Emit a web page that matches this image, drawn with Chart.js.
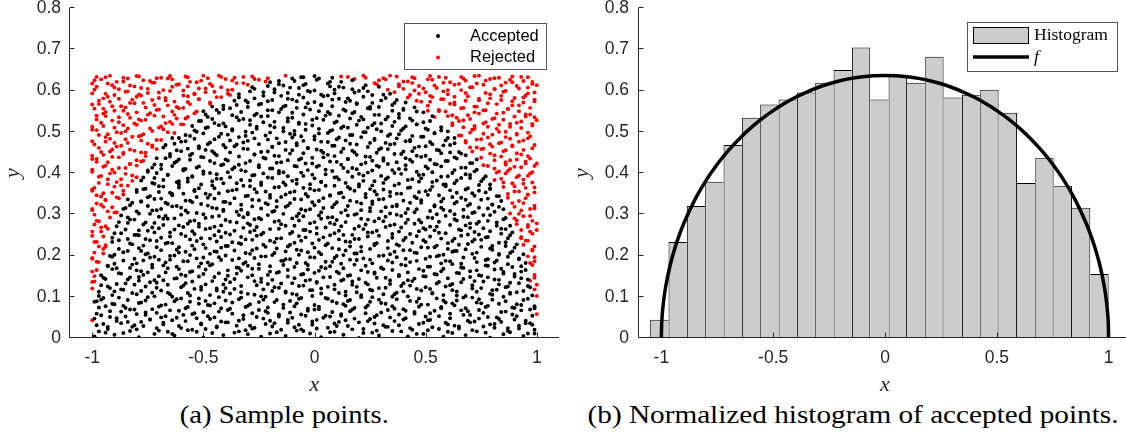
<!DOCTYPE html>
<html>
<head>
<meta charset="utf-8">
<script src="https://cdn.jsdelivr.net/npm/chart.js"></script>
<style>
  html, body { margin: 0; padding: 0; background: #fff; }
  body { width: 1126px; height: 444px; overflow: hidden; position: relative; }
  canvas { position: absolute; top: 0; }
  .caption {
    position: absolute; top: 402px; white-space: nowrap;
    font-family: "Liberation Serif", "Times New Roman", serif;
    font-size: 25px; line-height: 25px; color: #000;
    transform-origin: center center;
  }
</style>
</head>
<body>
<canvas id="samples" width="563" height="400" style="left:0"></canvas>
<canvas id="hist" width="568" height="400" style="left:563px"></canvas>
<div class="caption" data-center="284.5" data-width="209">(a) Sample points.</div>
<div class="caption" data-center="853" data-width="531">(b) Normalized histogram of accepted points.</div>
<script>
// Rejection-sampling points, stored as flat [x, y, x, y, ...] pairs:
// x in hundredths, y in thousandths.
const acceptedXY = [
  -99,4,-94,13,-90,8,-83,17,-79,2,-72,10,-66,15,-63,6,-57,19,-50,1,-46,12,-41,7,-34,16,-30,9,-24,3,-17,14,-13,5,-8,18,-2,11,3,2,9,15,13,8,20,0,26,13,29,6,35,17,42,4,46,10,51,19,58,3,62,12,68,7,73,16,79,1,85,9,88,14,94,5,99,11,
  -98,31,-93,22,-87,36,-82,27,-78,39,-71,24,-68,33,-61,29,-55,20,-51,35,-44,26,-39,38,-35,30,-28,23,-22,34,-19,28,-12,37,-6,21,-1,32,6,25,11,39,15,29,22,22,27,35,33,27,38,31,44,20,49,37,53,26,60,33,65,23,70,38,76,28,81,34,87,24,92,30,97,36,
  -99,47,-96,55,-89,41,-85,52,-80,58,-74,45,-69,50,-64,43,-59,56,-53,48,-48,53,-42,40,-37,59,-32,46,-26,51,-20,42,-16,57,-10,49,-4,54,1,44,7,52,12,58,18,47,24,41,28,55,34,50,40,45,45,59,51,43,56,53,61,48,67,56,72,40,78,51,83,46,89,57,95,42,98,54,
  -97,74,-92,65,-86,78,-81,69,-76,62,-70,76,-65,67,-58,72,-54,60,-47,79,-43,64,-38,71,-31,75,-25,68,-21,61,-14,73,-9,77,-3,66,2,70,8,63,14,78,17,69,23,74,30,62,36,71,41,66,47,76,52,60,57,72,63,79,69,65,74,68,77,75,84,63,90,73,93,67,99,77,
  -98,89,-95,97,-91,83,-84,92,-78,86,-75,99,-67,81,-62,94,-56,88,-52,96,-45,84,-40,91,-33,98,-29,82,-23,93,-18,87,-11,90,-7,95,0,80,5,97,10,85,16,92,21,99,25,88,32,83,37,94,43,90,48,81,55,96,59,86,64,91,71,98,75,84,80,93,86,89,91,82,96,95,
  -97,102,-90,113,-87,118,-80,106,-73,110,-69,115,-64,100,-57,109,-51,117,-47,104,-41,112,-36,119,-30,107,-24,101,-19,114,-13,110,-8,105,-1,116,3,108,9,118,14,103,19,111,26,115,31,106,35,100,40,113,46,119,53,109,58,104,62,116,68,102,73,112,79,107,82,117,88,110,94,114,98,103,
  -96,128,-92,121,-85,132,-79,139,-76,125,-71,134,-66,129,-60,123,-55,137,-49,130,-44,120,-38,135,-33,126,-27,138,-21,131,-16,122,-10,133,-5,127,1,136,6,124,12,139,17,129,23,134,29,121,34,131,39,126,44,138,50,123,55,132,61,128,66,135,71,120,76,137,83,130,87,125,92,133,97,123,
  -94,143,-88,157,-83,147,-77,153,-72,140,-67,159,-62,145,-58,151,-50,155,-45,148,-40,142,-35,156,-28,152,-24,144,-17,158,-12,149,-6,154,-2,141,4,147,11,157,15,151,20,143,27,159,32,146,38,153,42,140,49,150,54,155,60,145,64,158,70,148,74,152,81,142,85,156,90,149,96,142,
  -93,174,-89,169,-82,178,-78,162,-73,171,-68,176,-61,167,-56,160,-52,173,-46,179,-39,164,-34,170,-30,175,-25,168,-20,161,-14,177,-9,172,-3,166,2,163,7,174,13,169,18,178,24,160,30,171,35,165,41,176,47,167,52,173,57,162,62,179,67,170,73,164,78,175,84,168,89,172,93,161,
  -91,197,-86,188,-80,181,-74,195,-70,190,-65,199,-59,186,-53,193,-48,183,-43,196,-37,189,-32,180,-27,194,-22,198,-15,187,-11,191,-4,182,0,195,5,185,10,199,16,190,22,193,26,181,33,188,37,196,43,184,50,192,55,198,59,187,66,180,72,194,77,189,81,183,87,197,92,191,95,182,
  -90,202,-84,211,-79,218,-75,205,-69,213,-63,200,-58,209,-54,215,-47,204,-42,219,-36,212,-31,206,-26,217,-19,201,-13,210,-8,214,-3,208,3,203,8,218,14,212,19,205,25,216,31,200,36,209,40,213,46,206,51,219,58,202,63,211,68,215,73,207,79,217,83,204,89,210,94,203,
  -88,237,-83,229,-77,224,-71,235,-66,231,-61,220,-56,239,-50,227,-44,234,-39,223,-34,230,-28,238,-23,226,-18,232,-12,222,-6,236,-1,229,5,225,11,239,16,233,21,221,27,228,33,235,38,224,44,231,49,237,54,220,60,230,65,226,71,234,75,238,80,223,86,232,91,227,
  -91,243,-87,254,-81,250,-76,240,-72,256,-65,246,-60,252,-55,259,-51,242,-45,249,-40,255,-33,245,-29,257,-24,251,-17,241,-11,253,-7,247,-2,258,4,244,9,254,13,250,20,240,24,256,29,248,35,252,41,243,47,259,52,246,56,255,63,241,69,251,72,257,78,245,84,253,88,249,
  -89,271,-84,279,-79,261,-73,268,-68,274,-63,263,-57,277,-52,270,-47,266,-42,273,-36,260,-30,278,-26,269,-20,264,-15,276,-9,272,-4,262,1,267,7,279,12,271,18,265,23,275,28,260,34,273,39,268,45,277,50,263,55,270,61,274,66,261,70,278,76,266,82,272,86,264,
  -87,297,-81,287,-76,280,-70,294,-66,289,-60,299,-54,285,-49,291,-43,296,-38,282,-32,293,-27,288,-21,298,-16,284,-10,290,-5,295,0,281,6,292,10,286,15,297,21,289,27,283,32,294,37,299,42,287,48,280,53,291,59,296,64,285,69,293,74,282,79,298,85,288,
  -85,315,-80,307,-74,301,-69,313,-64,319,-58,309,-53,303,-46,316,-41,311,-35,306,-30,300,-24,314,-18,308,-13,318,-7,302,-2,312,3,305,8,317,14,310,19,301,25,315,30,307,35,319,41,303,46,312,52,308,57,316,63,300,67,311,72,305,78,314,83,318,
  -83,322,-78,331,-72,337,-67,328,-62,320,-56,333,-51,325,-45,338,-40,330,-33,323,-28,335,-22,327,-17,332,-12,321,-6,336,-1,329,4,339,9,324,16,333,21,326,26,331,31,337,37,320,43,328,48,334,54,322,58,338,64,330,70,325,75,335,80,323,84,332,
  -80,359,-75,341,-70,354,-64,346,-59,350,-54,356,-48,340,-43,351,-37,358,-31,344,-26,353,-20,347,-15,342,-9,355,-4,349,2,359,7,345,12,352,18,357,23,341,28,348,34,354,39,350,45,343,50,356,56,346,61,358,66,340,71,351,77,353,82,344,
  -77,361,-73,376,-68,367,-61,372,-57,379,-52,363,-46,370,-41,375,-35,360,-29,368,-24,377,-18,365,-13,371,-8,374,-2,362,3,378,9,369,15,366,20,373,25,361,31,376,36,370,42,364,47,379,53,367,59,372,63,375,68,360,74,371,79,363,
  -78,382,-72,388,-66,396,-61,380,-55,392,-50,398,-44,386,-38,390,-33,383,-27,395,-21,389,-16,399,-10,381,-5,393,0,387,5,397,11,384,17,391,22,394,27,380,33,389,39,398,44,385,49,396,55,382,60,392,66,388,70,395,76,386,
  -75,403,-69,410,-64,417,-59,406,-53,413,-47,400,-42,419,-37,409,-31,404,-25,414,-19,411,-14,402,-8,416,-3,407,2,418,8,405,13,412,19,409,24,401,29,415,35,407,41,419,46,403,51,411,57,416,62,400,68,413,73,408,
  -72,421,-67,436,-62,428,-56,432,-51,439,-45,424,-40,433,-34,420,-29,429,-23,437,-17,425,-12,431,-6,435,-1,423,4,438,10,427,15,434,21,421,26,430,31,436,37,426,43,432,48,439,54,422,59,429,64,435,70,424,
  -65,440,-60,453,-55,447,-49,456,-44,443,-38,450,-32,459,-27,445,-21,452,-16,441,-10,455,-5,448,1,457,6,444,12,451,17,454,23,440,28,449,33,458,39,446,44,453,50,442,55,456,61,450,66,447,
  -68,462,-63,471,-58,477,-52,460,-47,474,-41,468,-36,465,-30,478,-25,470,-19,463,-13,475,-8,472,-3,461,3,476,9,466,14,479,19,469,25,473,30,460,36,471,41,477,47,464,52,475,58,467,63,472,
  -61,485,-56,490,-50,496,-45,482,-39,493,-34,487,-28,498,-22,491,-17,484,-11,495,-6,489,0,481,6,497,11,486,16,492,22,499,27,483,33,490,38,494,43,480,49,488,54,496,60,485,
  -54,503,-48,511,-43,516,-37,506,-31,500,-26,512,-20,515,-14,509,-9,502,-4,519,2,507,8,504,13,513,19,517,24,510,30,501,35,514,40,508,46,518,51,505,57,503,
  -52,526,-46,531,-41,520,-35,535,-29,528,-24,537,-18,524,-12,533,-7,522,-1,529,5,539,10,525,16,532,21,536,27,521,32,530,38,534,44,527,49,523,
  -49,542,-44,553,-38,557,-33,548,-27,540,-21,552,-15,555,-10,546,-4,559,2,550,7,543,13,554,18,548,24,557,29,541,35,551,40,556,46,549,
  -41,563,-36,575,-30,571,-25,566,-19,577,-14,561,-8,574,-3,569,3,564,8,578,14,572,19,567,25,560,30,576,36,570,41,571,
  -34,583,-29,598,-23,587,-18,595,-12,580,-7,590,-2,597,4,586,9,593,15,581,20,599,26,589,31,590,
  -27,604,-21,611,-16,615,-11,607,-5,613,0,600,6,617,11,609,17,603,22,606,
  -16,623,-10,629,-5,632,1,626,7,621,
  -97,16,-93,27,-86,12,-80,21,-77,29,-70,18,-64,10,-60,24,-53,15,-49,22,-44,28,-36,13,-31,19,-27,25,-20,11,-15,20,-9,26,-5,17,1,23,7,14,10,29,17,21,22,12,28,18,32,27,39,16,43,24,49,10,56,22,60,15,65,28,71,19,77,13,81,25,87,17,92,23,96,11,99,20,
  -95,34,-89,48,-84,39,-81,31,-74,45,-68,37,-62,49,-58,41,-51,33,-47,46,-40,38,-34,42,-29,30,-23,47,-18,36,-12,44,-7,32,-1,40,4,49,9,35,14,43,20,38,25,46,31,31,36,41,41,48,47,34,52,44,59,37,63,30,69,42,74,47,79,33,84,39,90,45,95,36,98,32,
  -98,59,-92,51,-87,64,-83,69,-76,56,-71,61,-67,53,-61,66,-55,58,-50,63,-45,50,-39,68,-32,55,-28,60,-22,65,-16,52,-11,62,-6,57,0,69,5,54,12,54,16,65,23,60,27,51,33,68,38,57,45,63,50,52,54,66,61,59,66,67,70,56,76,61,82,50,86,64,91,53,97,69,
  -99,88,-94,77,-90,82,-85,73,-79,85,-73,70,-69,79,-63,89,-57,75,-52,83,-48,80,-42,72,-37,86,-30,78,-25,87,-21,74,-14,81,-8,84,-3,71,2,76,8,89,13,82,18,73,24,79,30,85,35,77,40,70,46,88,51,81,57,75,62,84,68,72,73,86,78,78,83,83,89,74,93,80,99,72,
  -96,93,-91,104,-88,98,-82,109,-76,91,-72,101,-65,106,-60,96,-56,103,-49,90,-43,99,-38,108,-34,94,-27,105,-22,100,-17,92,-10,107,-6,97,-1,102,6,95,11,109,15,90,21,104,26,99,29,93,36,106,42,101,47,96,53,108,58,91,64,103,67,98,74,94,80,105,85,100,88,107,94,92,
  -97,112,-93,125,-86,117,-81,129,-78,114,-71,122,-66,110,-59,127,-54,119,-51,124,-44,115,-40,121,-33,111,-26,128,-23,118,-18,123,-13,113,-7,126,-2,116,3,120,9,129,14,112,19,124,25,117,32,122,37,110,43,127,48,115,52,119,59,125,64,113,71,128,75,121,80,116,86,123,91,111,96,126,
  -95,146,-89,131,-84,142,-79,148,-74,135,-68,140,-63,144,-58,133,-52,149,-46,138,-41,130,-36,143,-30,147,-24,136,-19,141,-15,132,-9,145,-4,139,1,134,7,148,13,142,17,137,24,130,28,146,34,140,40,133,45,144,50,149,56,136,62,131,67,143,72,138,78,147,83,141,88,134,93,145,
  -96,152,-91,167,-87,156,-80,164,-75,159,-70,150,-66,169,-60,154,-55,162,-49,166,-43,157,-39,151,-33,163,-28,168,-21,153,-16,160,-12,165,-5,155,0,158,5,169,10,161,16,152,21,164,27,156,31,167,38,150,42,159,49,163,55,154,58,168,65,157,70,162,75,151,81,166,85,160,90,155,95,165,
  -93,175,-90,180,-83,170,-77,188,-73,178,-67,183,-62,173,-57,186,-51,181,-47,176,-42,189,-35,171,-31,184,-25,179,-20,174,-14,187,-8,182,-3,177,3,172,8,185,12,180,19,189,23,175,30,170,35,183,39,178,46,187,51,173,57,181,61,186,66,171,73,184,77,176,82,188,87,179,93,174,
  -92,199,-86,208,-81,192,-76,203,-72,197,-65,190,-61,207,-56,201,-50,195,-44,209,-40,200,-34,193,-29,204,-24,198,-18,206,-13,191,-7,202,-2,196,2,208,9,194,13,201,18,205,25,190,29,199,34,203,41,192,45,207,52,197,56,200,62,209,67,195,71,204,78,191,83,202,88,206,92,193,
  -88,216,-82,227,-78,211,-71,220,-67,229,-62,214,-55,224,-49,218,-45,210,-40,223,-33,228,-28,213,-22,221,-17,217,-11,226,-6,212,0,219,6,229,11,215,16,222,21,210,27,225,33,218,37,227,43,213,48,220,55,224,60,216,64,211,69,228,75,221,80,214,86,223,90,219,
  -91,233,-84,240,-79,249,-74,237,-69,243,-64,230,-58,247,-53,235,-47,241,-42,245,-37,232,-31,239,-26,248,-20,236,-15,242,-9,231,-4,244,2,238,7,249,14,234,18,240,24,246,28,230,35,243,40,237,46,247,50,233,57,241,62,235,66,248,72,239,77,244,83,231,87,242,
  -90,254,-85,263,-80,250,-75,260,-70,266,-65,256,-59,269,-54,252,-49,264,-43,259,-38,251,-32,267,-27,261,-23,255,-16,265,-10,257,-5,262,1,253,5,268,11,260,17,250,22,264,26,256,32,269,38,258,43,252,49,266,54,261,59,254,65,263,70,267,74,251,79,259,84,265,89,256,
  -88,281,-83,287,-77,275,-72,279,-68,289,-61,273,-56,283,-52,277,-45,270,-40,286,-35,280,-29,274,-24,288,-18,282,-13,272,-7,285,-2,278,3,289,9,276,14,281,20,271,24,287,31,283,36,275,41,279,47,286,52,270,56,282,63,288,68,273,73,277,78,284,82,280,88,272,
  -84,292,-79,302,-73,309,-67,296,-63,290,-57,304,-50,300,-46,294,-41,308,-34,298,-30,303,-25,291,-19,306,-14,301,-8,295,-4,309,2,297,8,293,12,304,18,299,25,307,29,290,34,302,39,296,45,305,51,292,55,300,61,308,67,294,71,303,76,298,81,306,86,291,
  -86,313,-82,328,-75,320,-71,310,-66,325,-60,316,-55,329,-48,321,-44,314,-38,326,-33,311,-28,319,-21,324,-17,318,-11,327,-6,312,0,322,4,315,10,329,15,320,21,310,26,325,32,317,37,323,42,313,48,328,54,319,58,311,63,326,69,321,74,316,80,324,85,312,
  -84,336,-78,331,-74,344,-69,338,-64,349,-58,333,-53,342,-47,347,-41,330,-36,339,-30,345,-25,334,-20,340,-13,348,-9,337,-3,343,2,332,7,346,13,341,19,330,23,349,29,336,34,344,40,333,46,339,51,347,57,331,62,342,68,335,72,345,78,338,83,344,
  -80,354,-76,362,-70,368,-65,352,-61,365,-54,359,-49,350,-45,363,-39,356,-32,369,-27,361,-22,355,-16,366,-11,353,-5,364,0,358,5,369,11,351,16,362,20,367,27,356,31,360,37,350,43,365,47,354,52,359,59,368,64,352,69,363,74,357,79,361,
  -77,389,-72,374,-68,383,-62,378,-57,387,-51,372,-46,380,-42,386,-35,375,-29,382,-24,371,-19,388,-14,377,-8,384,-2,373,3,379,9,389,14,376,22,381,26,370,32,385,38,374,42,383,48,387,53,378,58,372,64,382,70,388,75,380,79,372,
  -75,406,-71,400,-66,395,-59,409,-55,391,-50,404,-44,397,-39,402,-33,407,-28,394,-23,399,-16,405,-12,392,-6,401,-1,396,5,408,10,390,15,403,20,398,26,406,30,393,36,400,41,409,47,395,53,402,57,391,63,407,68,397,72,404,77,392,
  -73,413,-69,420,-63,425,-58,410,-52,416,-47,429,-41,421,-36,414,-31,424,-25,419,-20,411,-15,426,-9,417,-4,423,1,415,7,428,12,420,17,412,23,425,28,418,33,422,38,410,44,427,50,416,55,421,60,429,66,413,71,424,
  -71,436,-65,446,-61,433,-56,443,-50,438,-45,448,-39,430,-34,440,-27,445,-22,435,-18,442,-11,447,-7,432,-1,437,4,449,9,441,15,434,19,444,25,439,31,430,36,446,41,436,46,442,52,432,57,448,63,438,68,443,73,433,
  -67,468,-62,455,-57,459,-52,465,-46,453,-40,462,-35,469,-30,458,-24,451,-19,464,-13,456,-8,467,-3,460,3,454,8,466,13,459,18,450,24,463,29,457,34,469,40,452,45,461,50,465,56,455,61,468,65,451,
  -64,485,-60,476,-54,483,-48,470,-43,488,-38,479,-32,474,-27,484,-21,481,-16,472,-10,486,-5,478,0,489,6,475,10,482,16,471,21,487,27,480,32,473,37,484,43,477,48,488,53,470,59,479,63,485,
  -58,492,-53,500,-49,509,-42,495,-37,503,-31,490,-26,507,-20,498,-14,501,-9,493,-4,505,2,496,7,502,12,509,17,492,23,499,28,506,34,494,39,503,44,490,50,508,54,497,60,501,
  -55,514,-51,526,-45,521,-40,513,-34,528,-29,517,-23,523,-18,511,-12,525,-7,519,-1,515,4,529,9,522,15,510,20,527,26,516,30,520,36,524,41,513,46,518,52,526,57,511,
  -48,536,-43,546,-37,540,-32,531,-26,544,-21,538,-16,547,-10,534,-5,542,1,533,6,548,11,539,17,545,22,530,27,541,33,536,38,543,43,532,49,547,53,538,
  -50,550,-46,561,-41,555,-35,565,-30,560,-24,568,-19,552,-13,563,-8,558,-2,554,3,566,8,562,14,551,19,569,25,556,29,560,35,565,40,553,45,559,
  -31,576,-27,581,-21,574,-15,587,-10,578,-5,583,0,572,6,588,11,580,16,575,22,585,26,570,32,582,37,577,
  -34,591,-28,608,-23,596,-18,603,-12,594,-7,606,-3,599,3,590,9,602,13,607,18,595,24,598,29,609,34,592,
  -20,620,-14,612,-9,623,-4,616,2,629,7,610,12,621,17,625,23,613,
  -6,632,0,635,8,631
];
const rejectedXY = [
  -100,136,100,129,
  -99,150,99,146,
  -98,165,98,177,
  -100,192,-97,184,99,186,
  -99,207,-95,216,98,214,
  -98,233,-94,221,95,236,99,222,
  -100,248,-96,258,93,242,97,258,
  -99,275,-93,265,91,276,96,269,100,262,
  -97,283,-92,292,90,290,94,295,98,284,
  -100,310,-95,318,-90,304,88,302,93,309,97,313,
  -98,326,-94,334,-88,339,89,327,95,339,99,321,
  -100,357,-96,343,-91,352,-86,348,87,349,92,355,96,347,
  -99,364,-93,373,-89,378,-84,369,85,377,90,368,94,374,99,365,
  -97,391,-92,399,-87,385,-82,394,81,383,86,399,91,390,96,393,
  -100,408,-95,415,-90,401,-85,412,-80,418,78,417,83,404,88,410,93,414,98,402,
  -98,434,-93,426,-88,438,-83,422,-77,430,75,437,81,431,86,420,91,433,95,428,100,423,
  -100,442,-96,451,-91,457,-86,446,-81,454,-76,449,-71,458,71,452,76,459,81,443,86,455,91,448,96,441,
  -99,469,-94,476,-89,464,-84,473,-78,479,-73,467,68,478,73,462,79,470,84,474,89,465,94,479,99,468,
  -97,492,-92,483,-87,497,-82,488,-77,494,-71,480,-66,499,65,491,70,498,75,482,80,493,86,487,91,495,96,484,
  -100,505,-95,514,-90,510,-85,501,-80,517,-74,508,-69,513,-64,519,-59,518,62,516,67,511,72,507,78,512,83,500,88,519,93,509,98,515,
  -98,530,-94,538,-88,523,-83,534,-78,527,-72,539,-67,521,-62,532,-57,536,54,536,60,538,65,526,70,531,76,520,81,533,85,529,91,522,95,537,100,528,
  -99,556,-95,544,-90,551,-85,559,-80,547,-75,541,-70,554,-64,549,-59,558,-54,545,51,551,56,553,62,540,67,558,72,547,77,552,82,544,87,555,92,550,97,542,
  -97,567,-92,573,-87,562,-82,578,-77,570,-72,565,-67,576,-62,560,-57,572,-52,579,-47,568,46,575,52,573,57,579,63,566,68,575,73,561,78,569,84,577,89,564,94,571,99,574,
  -100,593,-95,581,-90,589,-85,597,-80,585,-75,594,-70,582,-65,599,-59,588,-54,591,-49,596,-44,584,-39,592,36,596,42,583,47,592,52,587,58,598,63,585,68,594,74,580,79,591,85,597,90,582,95,588,99,595,
  -98,609,-93,617,-88,603,-83,612,-78,606,-73,619,-68,601,-62,614,-57,610,-52,605,-47,616,-42,608,-37,602,-32,618,28,615,33,602,38,610,44,618,49,605,54,612,60,601,65,616,70,608,76,614,81,604,86,619,91,611,96,607,100,613,
  -99,625,-94,632,-89,621,-84,629,-80,635,-74,623,-69,631,-64,627,-58,634,-53,620,-48,630,-43,636,-37,624,-32,633,-27,628,-22,622,12,634,18,628,23,631,29,625,34,636,40,622,45,630,51,627,56,633,61,620,67,629,72,635,77,624,83,631,88,626,93,633,98,621,
  -100,43,
  100,58,
  100,102,
  -100,120,99,118,
  -99,137,97,139,
  -100,161,99,153,
  -98,185,97,182,
  -100,194,-95,205,96,198,99,196,
  -97,222,-94,225,94,226,98,212,
  -99,233,-95,246,93,245,96,236,
  -100,258,-96,268,93,262,98,253,
  -98,284,-94,271,91,285,96,274,100,278,
  -99,299,-93,307,-89,305,92,301,97,296,
  -100,313,-96,323,-91,317,90,318,94,327,99,314,
  -98,346,-94,335,-89,341,87,340,92,332,96,348,
  -100,360,-95,351,-90,367,-86,357,85,366,90,355,95,364,99,353,
  -97,376,-93,385,-87,370,-82,381,84,386,89,375,94,384,98,377,
  -100,403,-96,393,-91,408,-85,398,-80,390,82,401,87,405,92,394,97,399,
  -98,427,-94,418,-88,412,-83,422,-78,428,76,419,81,411,86,426,90,415,95,423,99,417,
  -100,434,-95,444,-91,439,-86,449,-80,431,-76,441,79,447,84,440,88,431,93,445,97,435,
  -97,461,-92,452,-87,466,-83,457,-78,450,-73,463,70,462,75,458,80,464,85,453,89,467,94,456,98,460,
  -100,477,-94,487,-90,473,-85,482,-79,489,-75,471,-69,480,68,474,73,481,78,486,83,472,88,483,92,476,97,489,
  -98,504,-93,494,-89,499,-84,508,-78,491,-73,502,-68,506,-63,497,66,491,71,505,76,495,82,507,86,500,91,493,96,498,
  -100,512,-96,522,-91,527,-86,516,-81,520,-76,529,-70,510,-65,524,-60,518,62,521,67,528,72,514,77,523,83,517,88,512,93,525,98,519,
  -98,539,-94,548,-88,535,-84,543,-79,530,-74,545,-68,537,-63,541,-58,532,-53,549,59,549,64,534,69,540,74,544,80,531,85,546,90,537,95,542,99,535,
  -100,566,-95,556,-91,562,-86,551,-81,569,-76,559,-71,553,-66,564,-61,557,-56,567,51,563,56,550,61,568,66,557,72,561,76,552,82,567,87,555,92,564,97,558,
  -97,575,-93,585,-88,580,-83,570,-78,588,-73,577,-67,582,-63,573,-57,586,-52,579,-47,571,-42,584,-38,589,43,589,48,573,53,584,58,579,63,571,69,586,74,576,79,581,84,587,89,574,94,583,99,578,
  -99,602,-94,592,-90,607,-84,598,-79,590,-75,604,-70,595,-64,609,-59,600,-54,593,-49,605,-45,597,-39,601,40,604,45,600,50,596,55,606,60,591,66,601,71,608,77,594,81,603,86,599,92,605,96,593,
  -100,617,-96,627,-91,613,-86,622,-81,610,-77,625,-72,619,-66,629,-61,615,-56,621,-51,624,-46,611,-40,628,-35,618,-30,614,-25,626,27,618,32,627,38,615,42,622,47,611,53,626,58,619,63,614,68,624,73,617,79,628,84,612,89,620,94,623,98,616,
  -98,633,-92,636,-86,631,-79,634,-71,630,-65,635,-57,632,-50,636,-42,633,-36,631,-28,634,-21,630,-13,636,15,633,22,636,31,630,37,634,44,632,52,635,59,631,66,633,74,636,81,630,89,634,96,632
];

// Histogram of the accepted x values (pdf normalisation).
const binEdges = [-1.05,-0.968,-0.886,-0.804,-0.722,-0.64,-0.558,-0.476,-0.394,-0.312,-0.23,-0.148,-0.066,0.016,0.098,0.18,0.262,0.344,0.426,0.508,0.59,0.672,0.754,0.836,0.918,1.0];
const binHeights = [0.044,0.233,0.32,0.379,0.468,0.534,0.566,0.578,0.595,0.619,0.65,0.704,0.578,0.638,0.619,0.682,0.583,0.59,0.602,0.546,0.376,0.437,0.369,0.316,0.155];

// Target density f (semicircle) sampled along x.
const fX = [-1,-0.999,-0.995,-0.99,-0.98,-0.96,-0.94,-0.92,-0.9,-0.85,-0.8,-0.75,-0.7,-0.65,-0.6,-0.55,-0.5,-0.45,-0.4,-0.35,-0.3,-0.25,-0.2,-0.15,-0.1,-0.05,0,0.05,0.1,0.15,0.2,0.25,0.3,0.35,0.4,0.45,0.5,0.55,0.6,0.65,0.7,0.75,0.8,0.85,0.9,0.92,0.94,0.96,0.98,0.99,0.995,0.999,1];
const fY = [0,0.0285,0.0636,0.0898,0.1267,0.1782,0.2172,0.2495,0.2775,0.3354,0.382,0.4211,0.4546,0.4838,0.5093,0.5317,0.5513,0.5685,0.5835,0.5963,0.6073,0.6164,0.6237,0.6294,0.6334,0.6358,0.6366,0.6358,0.6334,0.6294,0.6237,0.6164,0.6073,0.5963,0.5835,0.5685,0.5513,0.5317,0.5093,0.4838,0.4546,0.4211,0.382,0.3354,0.2775,0.2495,0.2172,0.1782,0.1267,0.0898,0.0636,0.0285,0];

// Tick positions shared by both panels.
const xTickValues = [-1, -0.5, 0, 0.5, 1];
const yTickValues = [0, 0.1, 0.2, 0.3, 0.4, 0.5, 0.6, 0.7, 0.8];

const SANS = '"Liberation Sans", Arial, sans-serif';
const SERIF = '"Liberation Serif", "Times New Roman", serif';
const INK = '#262626';

function toPoints(flat) {
  const pts = [];
  for (let i = 0; i < flat.length; i += 2) pts.push({ x: flat[i] / 100, y: flat[i + 1] / 1000 });
  return pts;
}

// Box-off axes with inward tick marks, drawn over the data.
const boxOffAxes = {
  id: 'boxOffAxes',
  afterDatasetsDraw(chart) {
    const { ctx, chartArea: a } = chart;
    const xs = chart.scales.x, ys = chart.scales.y;
    const L = Math.round(a.left) - 0.5, B = Math.round(a.bottom) - 0.5;
    ctx.save();
    ctx.strokeStyle = INK;
    ctx.lineWidth = 1;
    ctx.beginPath();
    ctx.moveTo(L, Math.round(a.top));
    ctx.lineTo(L, B);
    ctx.lineTo(Math.round(a.right), B);
    xs.ticks.forEach(t => {
      const p = Math.round(xs.getPixelForValue(t.value)) + 0.5;
      ctx.moveTo(p, B); ctx.lineTo(p, B - 5);
    });
    ys.ticks.forEach(t => {
      const p = Math.round(ys.getPixelForValue(t.value)) - 0.5;
      ctx.moveTo(L, p); ctx.lineTo(L + 5, p);
    });
    ctx.stroke();
    ctx.restore();
  }
};

// Framed legend placed inside the plot.
const boxLegend = {
  id: 'boxLegend',
  afterDraw(chart, args, opts) {
    if (!opts || !opts.items) return;
    const ctx = chart.ctx;
    const [x0, y0, x1, y1] = opts.box;
    ctx.save();
    ctx.fillStyle = '#fff';
    ctx.fillRect(x0, y0, x1 - x0, y1 - y0);
    ctx.strokeStyle = opts.borderColor;
    ctx.lineWidth = 1;
    ctx.strokeRect(x0 + 0.5, y0 + 0.5, x1 - x0, y1 - y0);
    opts.items.forEach(it => {
      const ds = chart.data.datasets[it.dataset];
      if (it.kind === 'dot') {
        ctx.fillStyle = ds.backgroundColor;
        ctx.beginPath();
        ctx.arc(it.markX, it.y, it.r, 0, Math.PI * 2);
        ctx.fill();
      } else if (it.kind === 'patch') {
        const [px0, py0, px1, py1] = it.rect;
        ctx.fillStyle = ds.backgroundColor;
        ctx.fillRect(px0, py0, px1 - px0, py1 - py0);
        ctx.strokeStyle = ds.borderColor;
        ctx.lineWidth = 1;
        ctx.strokeRect(px0 + 0.5, py0 + 0.5, px1 - px0 - 1, py1 - py0 - 1);
      } else if (it.kind === 'line') {
        ctx.strokeStyle = ds.borderColor;
        ctx.lineWidth = ds.borderWidth;
        ctx.beginPath();
        ctx.moveTo(it.x0, it.y);
        ctx.lineTo(it.x1, it.y);
        ctx.stroke();
      }
      ctx.font = it.font;
      ctx.fillStyle = '#000';
      ctx.textAlign = 'left';
      ctx.textBaseline = 'middle';
      ctx.fillText(ds.label, it.textX, it.y);
    });
    ctx.restore();
  }
};

function panelScales(yAxisWidth, yLabelPad, yTitlePad) {
  return {
    x: {
      type: 'linear', min: -1.1, max: 1.1, offset: false,
      afterBuildTicks: s => { s.ticks = xTickValues.map(v => ({ value: v })); },
      afterFit: s => { s.height = 62; s.paddingLeft = 0; s.paddingRight = 0; },
      grid: { display: false, drawTicks: false },
      border: { display: false },
      ticks: { color: INK, font: { family: SANS, size: 17.5 }, padding: 10, autoSkip: false, maxRotation: 0, callback: v => String(v) },
      title: { display: true, text: 'x', color: INK, font: { family: SERIF, size: 22, style: 'italic' }, padding: { top: 0, bottom: 2 } }
    },
    y: {
      type: 'linear', min: 0, max: 0.8,
      afterBuildTicks: s => { s.ticks = yTickValues.map(v => ({ value: v })); },
      afterFit: s => { s.width = yAxisWidth; s.paddingTop = 0; s.paddingBottom = 0; },
      grid: { display: false, drawTicks: false },
      border: { display: false },
      ticks: { color: INK, font: { family: SANS, size: 17.5 }, padding: yLabelPad, autoSkip: false, callback: v => String(v) },
      title: { display: true, text: 'y', color: INK, font: { family: SERIF, size: 22, style: 'italic' }, padding: { top: yTitlePad, bottom: 0 } }
    }
  };
}

// (a) accepted / rejected sample points
new Chart(document.getElementById('samples'), {
  type: 'scatter',
  data: {
    datasets: [
      { label: 'Accepted', data: toPoints(acceptedXY), backgroundColor: '#000000', borderColor: '#000000', pointRadius: 1.95, pointBorderWidth: 0 },
      { label: 'Rejected', data: toPoints(rejectedXY), backgroundColor: '#ff0000', borderColor: '#ff0000', pointRadius: 1.95, pointBorderWidth: 0 }
    ]
  },
  options: {
    responsive: false, animation: false, events: [],
    layout: { padding: { top: 8, right: 1, left: 0, bottom: 0 } },
    scales: panelScales(70, 9, 0),
    plugins: {
      legend: { display: false },
      tooltip: { enabled: false },
      boxLegend: {
        box: [404, 23, 546, 69], borderColor: '#555',
        items: [
          { dataset: 0, kind: 'dot', markX: 438, y: 36, r: 2, textX: 470, font: '16.5px ' + SANS },
          { dataset: 1, kind: 'dot', markX: 438, y: 57.5, r: 2, textX: 470, font: '16.5px ' + SANS }
        ]
      }
    }
  },
  plugins: [boxOffAxes, boxLegend]
});

// (b) normalised histogram with the target density on top
const lastBin = binHeights.length - 1;
new Chart(document.getElementById('hist'), {
  type: 'bar',
  data: {
    datasets: [
      {
        type: 'bar', label: 'Histogram', order: 1,
        data: binHeights.map((h, i) => ({ x: (binEdges[i] + binEdges[i + 1]) / 2, y: h })),
        backgroundColor: '#cccccc', borderColor: '#000000',
        borderWidth: c => {
          const i = c.dataIndex, h = binHeights;
          return {
            top: 1, bottom: 0,
            left: (i === 0 || h[i] >= h[i - 1]) ? 1 : 0,
            right: (i === lastBin || h[i] > h[i + 1]) ? 1 : 0
          };
        },
        borderSkipped: false, barPercentage: 1, categoryPercentage: 1, inflateAmount: 0
      },
      {
        type: 'line', label: 'f', order: 0,
        data: fX.map((x, i) => ({ x: x, y: fY[i] })),
        borderColor: '#000000', backgroundColor: '#000000', borderWidth: 3.5,
        pointRadius: 0, fill: false, cubicInterpolationMode: 'monotone'
      }
    ]
  },
  options: {
    responsive: false, animation: false, events: [],
    layout: { padding: { top: 8, right: 0, left: 0, bottom: 0 } },
    scales: panelScales(76, 10, 6),
    plugins: {
      legend: { display: false },
      tooltip: { enabled: false },
      boxLegend: {
        box: [404, 22, 554, 71], borderColor: '#555',
        items: [
          { dataset: 0, kind: 'patch', rect: [410, 27, 466, 44], y: 35.5, textX: 471, font: '17.5px ' + SERIF },
          { dataset: 1, kind: 'line', x0: 410, x1: 466, y: 57, textX: 471, font: 'italic 17.5px ' + SERIF }
        ]
      }
    }
  },
  plugins: [boxOffAxes, boxLegend]
});

// Centre each caption and stretch it to its column width.
document.querySelectorAll('.caption').forEach(el => {
  const w = el.getBoundingClientRect().width;
  const target = +el.dataset.width, centre = +el.dataset.center;
  el.style.left = (centre - w / 2) + 'px';
  el.style.transform = 'scaleX(' + (target / w).toFixed(4) + ')';
});
</script>
</body>
</html>
